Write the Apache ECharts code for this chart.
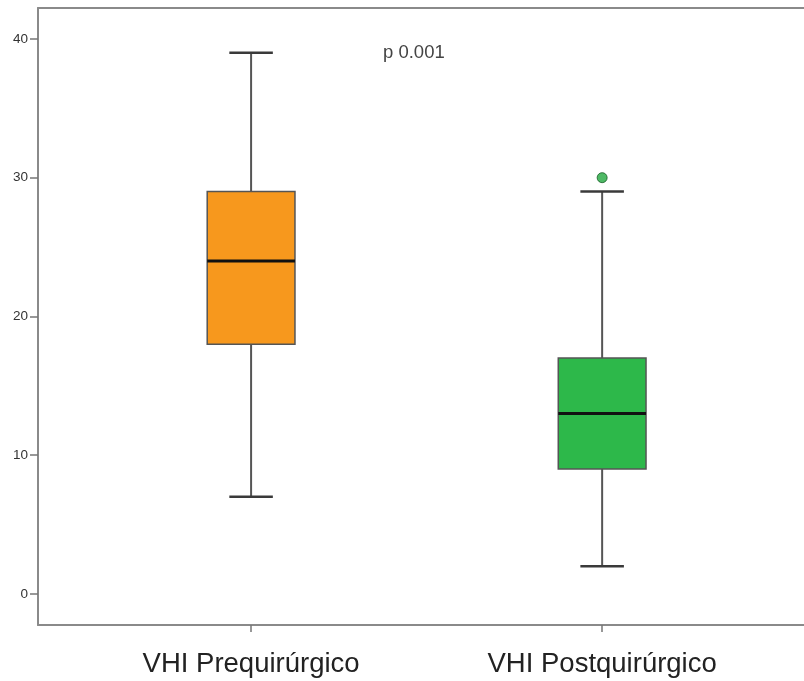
<!DOCTYPE html>
<html>
<head>
<meta charset="utf-8">
<script src="https://cdn.jsdelivr.net/npm/echarts@6/dist/echarts.min.js"></script>
<style>html,body{margin:0;padding:0;background:#fff}#c{width:804px;height:681px}</style>
</head>
<body>
<div id="c"></div>
<script>
// Data
const categories = ['VHI Prequirúrgico', 'VHI Postquirúrgico'];
const whiskerLow = [7, 2];
const q1 = [18, 9];
const median = [24, 13];
const q3 = [29, 17];
const whiskerHigh = [39, 29];
const outliers = [[1, 30]];
const yTicks = [0, 10, 20, 30, 40];
const pText = 'p 0.001';
const boxColors = ['#F7981D', '#2DB84A'];

const boxData = categories.map((c, i) => [i, whiskerLow[i], q1[i], median[i], q3[i], whiskerHigh[i]]);

const chart = echarts.init(document.getElementById('c'));
const BOX_HALF = 0.125, CAP_HALF = 0.062;
const FONT = 'Liberation Sans, Arial, sans-serif';

chart.setOption({
  animation: false,
  grid: { left: 38, right: 0, top: 8, bottom: 56 },
  xAxis: [{
    type: 'value', min: -0.607, max: 1.575,
    splitLine: { show: false },
    axisLine: { show: true, onZero: false, lineStyle: { color: '#8a8a8a', width: 2 } },
    axisTick: { show: true, customValues: [0, 1], length: 7, lineStyle: { color: '#777', width: 1.5 } },
    axisLabel: { customValues: [0, 1], formatter: v => categories[Math.round(v)], margin: 25,
      fontSize: 27.5, color: '#222', fontFamily: FONT }
  }, {
    type: 'value', position: 'top', min: -0.607, max: 1.575,
    splitLine: { show: false },
    axisLine: { show: true, onZero: false, lineStyle: { color: '#8a8a8a', width: 2 } },
    axisTick: { show: false }, axisLabel: { show: false }
  }],
  yAxis: {
    type: 'value', min: -2.24, max: 42.23,
    splitLine: { show: false },
    axisLine: { show: true, onZero: false, lineStyle: { color: '#8a8a8a', width: 2 } },
    axisTick: { show: true, customValues: yTicks, length: 8, lineStyle: { color: '#777', width: 1.5 } },
    axisLabel: { customValues: yTicks, margin: 10, fontSize: 13.5, color: '#333', fontFamily: FONT }
  },
  graphic: [{
    type: 'text', left: 383, top: 43,
    style: { text: pText, fontSize: 18.5, fill: '#444', fontFamily: FONT }
  }],
  series: [{
    type: 'custom',
    data: boxData,
    encode: { x: 0, y: [1, 2, 3, 4, 5] },
    renderItem: function (params, api) {
      const x = api.value(0);
      const lo = api.coord([x, api.value(1)]);
      const b1 = api.coord([x - BOX_HALF, api.value(2)]);
      const b2 = api.coord([x + BOX_HALF, api.value(4)]);
      const md1 = api.coord([x - BOX_HALF, api.value(3)]);
      const md2 = api.coord([x + BOX_HALF, api.value(3)]);
      const hi = api.coord([x, api.value(5)]);
      const c1 = api.coord([x - CAP_HALF, 0])[0];
      const c2 = api.coord([x + CAP_HALF, 0])[0];
      const lineStyle = { stroke: '#555', lineWidth: 2 };
      return {
        type: 'group',
        children: [
          { type: 'line', shape: { x1: hi[0], y1: hi[1], x2: hi[0], y2: b2[1] }, style: lineStyle },
          { type: 'line', shape: { x1: lo[0], y1: lo[1], x2: lo[0], y2: b1[1] }, style: lineStyle },
          { type: 'line', shape: { x1: c1, y1: hi[1], x2: c2, y2: hi[1] }, style: { stroke: '#3a3a3a', lineWidth: 2.5 } },
          { type: 'line', shape: { x1: c1, y1: lo[1], x2: c2, y2: lo[1] }, style: { stroke: '#3a3a3a', lineWidth: 2.5 } },
          { type: 'rect', shape: { x: b1[0], y: b2[1], width: b2[0] - b1[0], height: b1[1] - b2[1] },
            style: { fill: boxColors[params.dataIndex], stroke: '#555', lineWidth: 1.5 } },
          { type: 'line', shape: { x1: md1[0], y1: md1[1], x2: md2[0], y2: md2[1] }, style: { stroke: '#111', lineWidth: 3 } }
        ]
      };
    }
  }, {
    type: 'scatter',
    data: outliers,
    symbolSize: 10,
    itemStyle: { color: '#22A83F', borderColor: '#145c24', borderWidth: 1 }
  }]
});
</script>
</body>
</html>
